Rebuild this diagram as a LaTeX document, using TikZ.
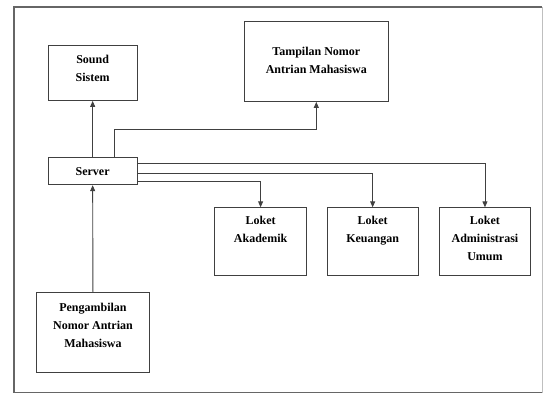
\documentclass[tikz,border=0pt]{standalone}
\usepackage{fontspec}
\setmainfont{Liberation Serif}
\usetikzlibrary{arrows.meta,calc}
\begin{document}
\begin{tikzpicture}[x=1pt,y=-1pt,
  box/.style={draw=black!75,line width=0.9pt,inner sep=0pt,anchor=north west},
  txt/.style={inner sep=0pt,anchor=north,align=center,font={\bfseries\fontsize{12}{18}\selectfont}},
  arr/.style={draw=black!75,line width=0.9pt,-{Triangle[length=6pt,width=5pt]}},
  frame/.style={draw=black!60,line width=1.3pt}]
\useasboundingbox (0,0) rectangle (546,394);
\draw[frame] (542,7) -- (14,7) -- (14,392.5) -- (542,392.5);
\draw[draw=black!25,line width=1pt] (542,7) -- (542,392.5);
% boxes
\node[box,minimum width=89pt,minimum height=55.3pt] (snd) at (47.7,44.7) {};
\node[box,minimum width=143.7pt,minimum height=80pt] (tamp) at (244,21) {};
\node[box,minimum width=89pt,minimum height=27pt,font={\bfseries\fontsize{12}{18}\selectfont}] (srv) at (47.7,157.3) {Server};
\node[box,minimum width=91.7pt,minimum height=67.7pt] (aka) at (214.3,207.3) {};
\node[box,minimum width=91pt,minimum height=67.7pt] (keu) at (326.7,207.3) {};
\node[box,minimum width=91pt,minimum height=67.7pt] (adm) at (439,207.3) {};
\node[box,minimum width=113.6pt,minimum height=80.3pt] (pen) at (35.7,292) {};
% texts
\node[txt] (sndt) at ($(snd.north)+(0,10)$) {Sound\\Sistem};
\node[txt] (tampt) at ($(tamp.north)+(0,26)$) {Tampilan Nomor\\Antrian Mahasiswa};
\node[txt] (akat) at ($(aka.north)+(0,9)$) {Loket\\Akademik};
\node[txt] (keut) at ($(keu.north)+(0,9)$) {Loket\\Keuangan};
\node[txt] (admt) at ($(adm.north)+(0,9)$) {Loket\\Administrasi\\Umum};
\node[txt] (pent) at ($(pen.north)+(0,11)$) {Pengambilan\\Nomor Antrian\\Mahasiswa};
% connectors
\coordinate (t1) at (114,129);
\coordinate (ya) at (0,181.5);
\coordinate (yk) at (0,173.3);
\coordinate (yd) at (0,163.8);
\draw[arr] (srv.north) -- (snd.south);
\draw[arr] (srv.north -| t1) -- (t1) -| (tamp.south);
\draw[arr] (pen.north) -- (srv.south);
\draw[arr] (srv.east |- ya) -| (aka.north);
\draw[arr] (srv.east |- yk) -| (keu.north);
\draw[arr] (srv.east |- yd) -| (adm.north);
\end{tikzpicture}
\end{document}
